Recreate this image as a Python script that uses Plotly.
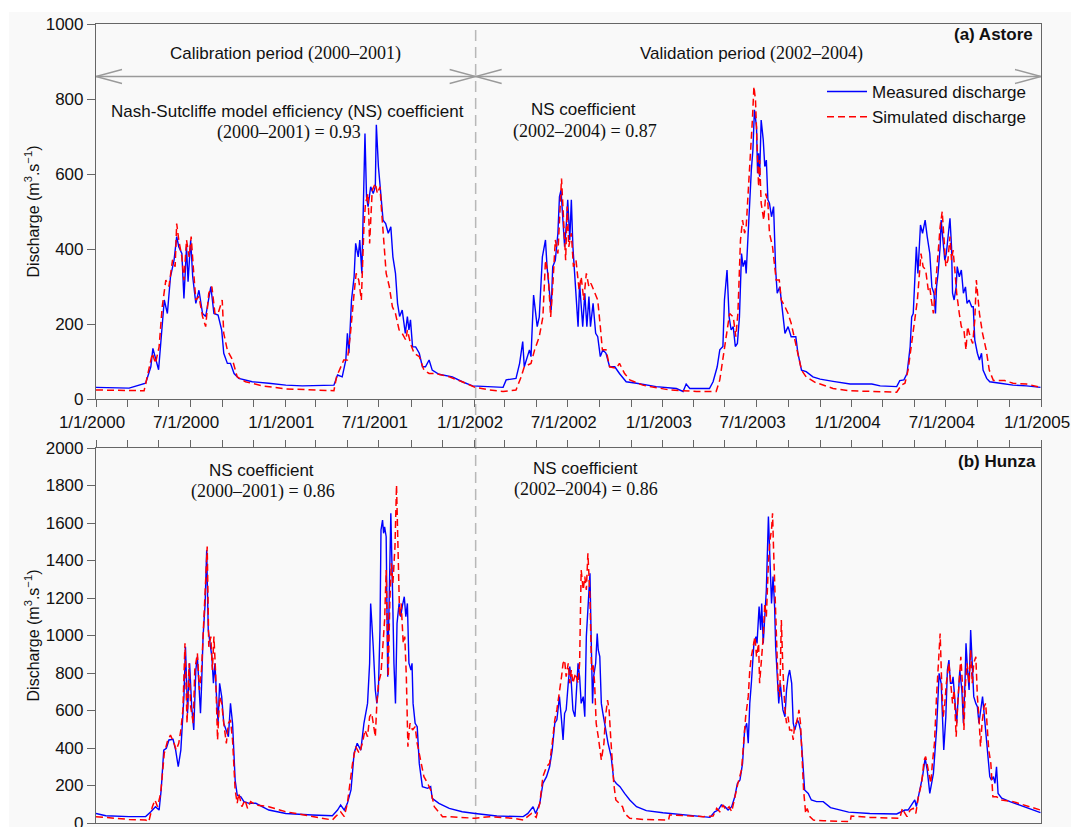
import pandas as pd
import plotly.graph_objects as go

# ---------------- data (days since 2000-01-01, discharge m3/s) ----------------
astore_meas_day = [0,64,96,106,110,117,121,132,138,144,151,156,160,166,170,175,178,183,187,193,199,206,212,222,228,236,243,247,254,260,267,276,302,334,367,399,450,460,467,476,483,486,489,494,499,502,507,510,514,517,520,523,526,531,536,540,542,546,551,555,560,565,570,574,579,583,587,592,598,602,605,608,612,618,625,631,637,644,650,663,689,708,728,
    750,787,793,812,819,825,828,838,841,846,853,857,863,869,872,877,880,883,888,893,896,899,903,906,909,912,916,919,922,925,928,932,935,941,945,949,953,956,961,966,970,975,980,986,993,1003,1012,1025,1045,1083,1122,1135,1141,1148,1186,1193,1201,1206,1212,1215,1220,1224,1228,1232,1236,1240,1244,1248,1251,1255,1257,1261,1264,1267,1270,1273,1277,1279,1281,1283,1286,1290,1293,1296,1299,1302,1306,1310,1314,1317,1322,1328,1332,1338,1344,1353,1357,1364,1373,1386,1400,1425,1458,1500,1516,1548,
    1554,1562,1568,1574,1577,1580,1583,1586,1589,1592,1594,1598,1603,1607,1612,1616,1620,1623,1625,1628,1632,1634,1638,1641,1644,1648,1651,1654,1656,1659,1663,1665,1669,1673,1677,1681,1684,1688,1693,1696,1699,1704,1708,1712,1715,1722,1728,1748,1773,1799,1826]
astore_meas_q = [31,29,42,86,135,99,78,264,228,326,371,433,406,388,268,406,313,424,326,255,290,228,220,300,228,224,184,122,95,95,68,55,46,42,37,35,35,37,64,59,104,175,122,264,326,415,379,424,335,495,708,539,513,566,548,566,731,620,548,477,468,442,459,379,335,255,220,237,175,220,184,211,139,139,122,86,86,104,77,66,59,46,35,
    33,31,51,55,95,153,86,131,113,277,193,219,379,424,353,282,237,353,370,442,539,557,459,406,459,531,424,531,406,335,282,193,308,193,282,193,273,193,255,175,166,113,131,122,86,86,68,46,42,33,28,20,40,28,28,46,86,131,140,264,344,219,184,193,140,148,219,388,353,370,335,459,522,611,664,771,726,602,655,593,744,691,620,637,531,522,486,513,344,282,299,228,175,193,166,166,122,77,73,59,53,47,40,40,35,33,
    49,51,68,139,219,228,326,406,335,424,464,442,477,433,388,299,282,228,299,335,406,477,406,370,388,450,482,406,282,264,299,353,326,344,282,299,255,264,246,246,157,122,104,122,77,55,46,42,37,35,31]

astore_sim_day = [0,64,93,99,109,115,122,128,135,141,148,153,156,160,166,170,175,180,184,188,193,199,206,212,218,224,230,236,244,247,254,264,273,289,322,367,418,460,465,473,479,486,492,499,503,508,513,518,521,526,529,534,540,544,549,552,557,561,567,573,579,586,592,599,602,608,615,625,634,644,657,683,708,733,
    761,787,812,822,828,841,848,857,864,869,874,879,883,888,893,896,900,904,908,911,914,919,923,928,934,938,943,948,953,957,964,970,975,979,986,993,1006,1012,1022,1032,1057,1109,1161,1199,1206,1212,1219,1225,1232,1237,1241,1246,1250,1254,1257,1261,1265,1269,1272,1275,1278,1281,1283,1286,1291,1295,1299,1302,1308,1312,1315,1321,1325,1332,1338,1344,1351,1357,1364,1373,1393,1400,1425,1458,1497,1548,
    1557,1564,1570,1577,1583,1588,1592,1595,1599,1604,1609,1612,1615,1619,1622,1625,1628,1632,1636,1639,1643,1647,1651,1654,1657,1661,1664,1669,1673,1678,1682,1685,1690,1695,1699,1702,1708,1714,1721,1727,1735,1757,1773,1799,1826]
astore_sim_q = [24,22,22,59,122,95,139,246,317,300,371,353,468,424,379,317,424,379,433,353,264,273,220,193,282,300,228,228,264,175,130,104,59,46,35,27,24,22,59,86,104,104,175,282,335,317,264,459,522,548,415,557,575,548,566,504,415,335,300,246,228,184,175,157,184,148,122,113,77,68,68,59,46,31,
    24,20,24,59,86,95,131,166,219,370,335,219,299,424,388,486,588,477,370,513,406,442,353,370,291,326,264,335,299,308,282,264,193,131,131,86,82,95,68,51,37,24,20,20,51,104,175,228,219,166,228,424,477,442,459,548,637,744,833,797,682,566,637,522,477,548,522,442,406,353,317,317,264,246,228,202,157,122,77,59,42,40,28,22,20,18,
    37,42,77,148,211,264,335,388,353,344,291,299,264,228,282,335,406,459,500,442,353,370,433,370,397,335,282,228,193,184,131,193,166,148,211,317,228,175,131,77,49,49,42,40,31]

hunza_meas_day = [0,19,64,96,106,115,122,126,131,136,141,149,154,159,164,167,170,173,177,181,185,189,193,196,199,202,204,207,211,214,217,220,224,227,230,233,236,239,243,247,252,256,260,264,269,273,280,286,296,309,334,367,418,457,467,473,480,486,493,499,505,512,518,525,529,531,536,540,543,546,549,551,554,556,558,561,564,567,570,573,576,579,582,586,589,592,596,599,602,605,609,611,613,617,621,625,631,641,647,650,663,683,708,733,
    775,826,835,845,850,858,864,871,877,882,887,891,896,900,903,906,909,913,916,919,922,926,929,932,935,938,942,945,948,951,955,957,960,962,966,969,971,974,977,980,985,990,996,1001,1006,1013,1022,1032,1045,1064,1096,1141,1187,1196,1203,1209,1216,1222,1229,1235,1240,1245,1250,1254,1258,1261,1264,1267,1272,1276,1278,1282,1285,1287,1290,1293,1296,1300,1303,1306,1309,1312,1314,1317,1320,1323,1326,1328,1332,1335,1338,1341,1345,1348,1351,1356,1359,1362,1365,1370,1377,1383,1393,1406,1420,1438,1455,1496,1548,
    1557,1564,1570,1577,1583,1586,1593,1598,1603,1607,1612,1619,1625,1630,1634,1637,1639,1643,1646,1649,1652,1655,1657,1661,1664,1667,1670,1674,1677,1680,1682,1685,1688,1691,1694,1697,1701,1704,1707,1710,1714,1717,1722,1725,1728,1731,1735,1738,1741,1744,1751,1767,1786,1806,1826]
hunza_meas_q = [51,39,34,34,60,87,69,176,389,398,443,446,389,300,389,532,674,940,585,852,620,496,816,887,745,585,727,994,1171,1456,1029,958,887,745,852,674,532,745,674,532,496,460,638,532,229,149,140,114,105,105,69,51,43,39,69,96,69,105,176,372,425,389,532,638,852,1171,940,709,638,709,1029,1563,1616,1545,1580,1527,780,1207,1652,1278,852,638,1065,1171,1100,1154,1207,1100,1171,852,816,852,638,532,514,318,194,185,194,132,105,78,60,51,
    37,34,51,87,51,105,211,247,300,389,532,550,674,550,443,585,603,745,834,745,603,567,745,852,780,638,674,567,994,1154,1332,1029,638,780,852,1011,923,887,638,585,496,425,354,229,211,194,158,123,87,66,55,43,30,60,69,96,87,69,87,140,211,229,318,496,532,425,638,745,958,994,958,1154,1029,1171,958,1100,1243,1634,1420,1171,1314,1154,940,780,638,745,674,603,567,709,780,816,745,532,496,550,532,496,389,176,158,123,114,114,82,69,58,51,48,
    60,69,69,96,123,87,176,247,345,283,158,265,496,798,745,532,389,567,816,869,745,745,780,638,532,674,816,709,532,745,958,816,709,1029,816,674,638,620,532,603,674,585,443,354,247,229,247,211,300,158,132,114,96,78,55]

hunza_sim_day = [0,32,64,96,102,109,114,119,125,132,138,144,151,155,160,164,168,172,176,180,183,188,191,196,200,204,209,212,215,218,222,225,228,231,235,239,243,247,252,256,260,264,269,273,276,282,288,293,299,309,334,367,418,457,463,473,480,486,496,502,509,515,520,525,529,533,536,540,543,546,551,555,558,561,565,568,571,574,578,581,584,587,590,594,597,600,603,607,612,617,621,628,634,641,647,654,660,670,683,708,733,
    761,806,826,835,842,848,851,858,864,871,877,882,887,891,895,900,903,906,909,913,916,919,922,927,932,935,938,942,945,948,951,955,958,961,964,967,971,974,977,982,985,989,992,995,998,1001,1005,1011,1018,1022,1032,1058,1096,1107,1109,1174,1193,1200,1206,1212,1218,1224,1229,1235,1241,1248,1252,1256,1261,1264,1267,1271,1274,1277,1281,1283,1287,1290,1293,1296,1300,1303,1306,1308,1310,1313,1316,1319,1322,1325,1328,1332,1335,1338,1341,1345,1348,1351,1354,1357,1359,1362,1365,1368,1372,1375,1380,1387,1406,1458,1460,1496,1554,
    1559,1564,1568,1574,1580,1585,1590,1596,1601,1604,1609,1614,1617,1621,1625,1628,1632,1635,1638,1641,1644,1649,1653,1656,1659,1663,1666,1669,1672,1675,1678,1681,1684,1688,1691,1694,1697,1701,1704,1707,1710,1713,1717,1720,1723,1726,1730,1734,1741,1751,1773,1806,1826]
hunza_sim_q = [34,25,19,16,7,87,123,87,158,372,434,469,425,389,425,496,603,958,532,852,620,532,816,905,709,816,1100,1278,1474,940,994,816,994,816,443,674,638,532,425,532,550,443,176,105,158,87,123,78,114,96,87,60,34,16,34,60,34,105,318,407,372,425,496,460,567,585,532,460,638,745,798,958,1083,1349,780,1171,1385,1278,1474,1803,1349,1100,1171,958,994,780,407,532,496,514,425,318,247,212,176,87,69,34,34,30,25,
    34,25,16,34,51,37,30,105,247,300,318,425,550,603,674,780,852,869,780,852,745,816,745,798,745,852,1349,1243,1314,1243,1438,1207,816,852,745,532,460,389,336,425,567,656,603,460,318,211,123,105,87,51,25,19,16,16,43,34,37,78,60,96,69,87,60,140,211,283,407,567,674,816,887,958,994,887,958,745,887,994,1171,1100,1385,1509,1563,1652,1456,1136,958,709,674,1083,816,603,532,567,496,496,443,532,532,567,603,532,318,176,51,78,34,16,12,7,37,30,25,
    78,51,34,69,78,51,140,211,336,354,283,211,318,425,674,816,1011,745,567,638,745,852,745,638,709,460,638,780,887,745,496,745,852,745,923,745,852,887,674,567,407,532,620,638,532,389,318,140,140,123,114,87,69]

x_tick_labels = ["1/1/2000", "7/1/2000", "1/1/2001", "7/1/2001", "1/1/2002", "7/1/2002",
                 "1/1/2003", "7/1/2003", "1/1/2004", "7/1/2004", "1/1/2005"]
ns_values = {"astore_cal": "0.93", "astore_val": "0.87", "hunza_cal": "0.86", "hunza_val": "0.86"}

# ---------------- helpers ----------------
BASE = pd.Timestamp("2000-01-01")
def to_dates(days):
    return BASE + pd.to_timedelta(days, unit="D")

W, H = 1071, 827
ML, MR, MT, MB = 96, 30, 24, 4
PW, PH = W - ML - MR, H - MT - MB
def px(x):
    return (x - ML) / PW
def py(y):
    return (H - MB - y) / PH

SANS = "Liberation Sans, Arial, sans-serif"
SERIF = "Liberation Serif, Times New Roman, serif"
TXT = "#111111"
AX = "#666666"
BLUE = "#0000ff"
RED = "#ff0000"

fig = go.Figure()
fig.add_trace(go.Scatter(x=to_dates(astore_meas_day), y=astore_meas_q, mode="lines",
                         line=dict(color=BLUE, width=1.4), name="Measured discharge",
                         xaxis="x", yaxis="y"))
fig.add_trace(go.Scatter(x=to_dates(astore_sim_day), y=astore_sim_q, mode="lines",
                         line=dict(color=RED, width=1.5, dash="7px,4px"), name="Simulated discharge",
                         xaxis="x", yaxis="y"))
fig.add_trace(go.Scatter(x=to_dates(hunza_meas_day), y=hunza_meas_q, mode="lines",
                         line=dict(color=BLUE, width=1.4), name="Measured discharge",
                         showlegend=False, xaxis="x2", yaxis="y2"))
fig.add_trace(go.Scatter(x=to_dates(hunza_sim_day), y=hunza_sim_q, mode="lines",
                         line=dict(color=RED, width=1.5, dash="7px,4px"), name="Simulated discharge",
                         showlegend=False, xaxis="x2", yaxis="y2"))

major_ticks = [pd.Timestamp(f"{y}-{m:02d}-01") for y in range(2000, 2005) for m in (1, 7)] + [pd.Timestamp("2005-01-01")]
minor_ticks = [pd.Timestamp(f"{y}-{m:02d}-01") for y in range(2000, 2005) for m in (3, 5, 9, 11)]
xrange_ = [pd.Timestamp("2000-01-01"), pd.Timestamp("2005-01-01")]

common_x = dict(range=xrange_, tickmode="array", tickvals=major_ticks, ticks="outside", ticklen=7,
                tickcolor=AX, tickwidth=1, showline=True, linecolor=AX, linewidth=1.2, mirror=True,
                showgrid=False, zeroline=False, automargin=False,
                minor=dict(tickmode="array", tickvals=minor_ticks, ticks="outside", ticklen=7,
                           tickcolor=AX, tickwidth=1, showgrid=False))
common_y = dict(ticks="outside", ticklen=8, tickcolor=AX, showline=True, linecolor=AX, linewidth=1.2,
                mirror=True, showgrid=False, zeroline=False, dtick=200, automargin=False,
                ticklabeloverflow="allow",
                tickfont=dict(family=SANS, size=17, color=TXT))
ytitle = dict(text="Discharge (m<sup>3</sup>.s<sup>−1</sup>)", font=dict(family=SANS, size=16, color=TXT),
              standoff=2)

top_dom = [py(399), py(24)]
bot_dom = [py(823), py(448)]

fig.update_layout(
    width=W, height=H, margin=dict(l=ML, r=MR, t=MT, b=MB, autoexpand=False),
    paper_bgcolor="white", plot_bgcolor="rgba(0,0,0,0)",
    xaxis=dict(**common_x, anchor="y", domain=[0, 1], ticktext=x_tick_labels,
               ticklabeloverflow="allow", ticklabelshift=-4,
               tickfont=dict(family=SANS, size=17, color=TXT)),
    xaxis2=dict(**common_x, anchor="y2", domain=[0, 1], matches="x", side="top",
                showticklabels=False),
    yaxis=dict(**common_y, domain=top_dom, range=[0, 1000], title=ytitle),
    yaxis2=dict(**common_y, domain=bot_dom, range=[0, 2000], title=ytitle),
    showlegend=True,
    legend=dict(x=px(822), y=py(74), xanchor="left", yanchor="top", bgcolor="rgba(0,0,0,0)",
                font=dict(family=SANS, size=17, color=TXT), itemwidth=40, tracegroupgap=0),
    hovermode=False,
)

shapes = []
# page background (light grey, with a thin white border top/left as in the original)
shapes.append(dict(type="rect", xref="paper", yref="paper", x0=px(9), x1=px(W + 5), y0=py(12), y1=py(H + 5),
                   fillcolor="#f9f9f9", line=dict(width=0), layer="below"))
# period divider
split = pd.Timestamp("2002-01-04")
shapes.append(dict(type="line", xref="x", yref="paper", x0=split, x1=split, y0=0, y1=1,
                   line=dict(color="#b8b8b8", width=1.5, dash="11px,6px"), layer="below"))
# period arrows
ARR_Y = 860
GREY = "#9a9a9a"
shapes.append(dict(type="line", xref="x", yref="y", x0=xrange_[0], x1=xrange_[1], y0=ARR_Y, y1=ARR_Y,
                   line=dict(color=GREY, width=1.3)))
def chevron(anchor, direction):
    d = 26 * direction
    return dict(type="path", xref="x", yref="y", xsizemode="pixel", ysizemode="pixel",
                xanchor=anchor, yanchor=ARR_Y, path=f"M{d},7 L0,0 L{d},-7",
                line=dict(color=GREY, width=1.3))
shapes += [chevron(xrange_[0], 1), chevron(split, -1), chevron(split, 1), chevron(xrange_[1], -1)]
fig.update_layout(shapes=shapes)

def sp(t):
    return f"<span style='font-family:{SERIF};font-size:18px'>{t}</span>"

ann = []
def add(text, x, y, size=17, xanchor="center", serif=False, bold=False):
    fam = SERIF if serif else SANS
    if bold:
        text = f"<b>{text}</b>"
    ann.append(dict(text=text, x=px(x), y=py(y), xref="paper", yref="paper", showarrow=False,
                    xanchor=xanchor, yanchor="middle", font=dict(family=fam, size=size, color=TXT)))

add("Calibration period " + sp("(2000–2001)"), 285, 53)
add("Validation period " + sp("(2002–2004)"), 751, 53)
add("(a) Astore", 1035, 35, xanchor="right", bold=True)
add("Nash-Sutcliffe model efficiency (NS) coefficient", 287.5, 112)
add(f"(2000–2001) = {ns_values['astore_cal']}", 288.5, 133, size=18, serif=True)
add("NS coefficient", 583, 110)
add(f"(2002–2004) = {ns_values['astore_val']}", 584.5, 131, size=18, serif=True)
add("(b) Hunza", 1038, 462, xanchor="right", bold=True)
add("NS coefficient", 261, 470)
add(f"(2000–2001) = {ns_values['hunza_cal']}", 263, 491.5, size=18, serif=True)
add("NS coefficient", 585, 468)
add(f"(2002–2004) = {ns_values['hunza_val']}", 586, 490, size=18, serif=True)
fig.update_layout(annotations=ann)

fig.write_html("out.html", config={"displayModeBar": False})
